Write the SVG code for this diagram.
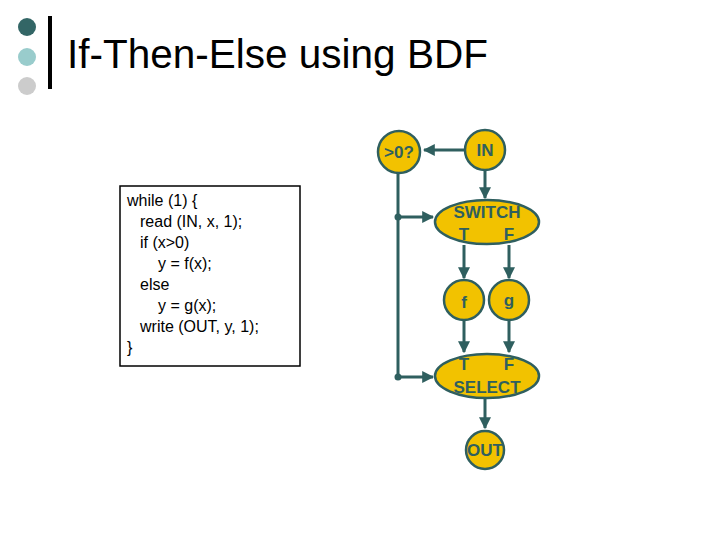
<svg xmlns="http://www.w3.org/2000/svg" width="720" height="540" viewBox="0 0 720 540">
<defs>
<style>
.n{fill:#F2C200;stroke:#2F5F5F;stroke-width:2.5}
.t{font-family:"Liberation Sans",Arial,sans-serif;font-size:17px;fill:#2F5F5F;text-anchor:middle;font-weight:bold}
.c{stroke:#2F5F5F;stroke-width:3;fill:none}
.code{font-family:"Liberation Sans",Arial,sans-serif;font-size:16px;fill:#000}
</style>
<marker id="a" viewBox="0 0 10 10" refX="9" refY="5" markerWidth="4" markerHeight="4" orient="auto"><path d="M0,0L10,5L0,10z" fill="#2F5F5F"/></marker>
</defs>
<rect width="720" height="540" fill="#fff"/>
<g id="header">
<circle cx="27" cy="27" r="9" fill="#336666"/>
<circle cx="27" cy="57" r="9" fill="#99CCCC"/>
<circle cx="27" cy="86" r="9" fill="#CCCCCC"/>
<rect x="48" y="16" width="4" height="73" fill="#000"/>
<text x="67" y="68" font-family="Liberation Sans,Arial,sans-serif" font-size="40.5" fill="#000">If-Then-Else using BDF</text>
</g>
<g id="code">
<rect x="120" y="186" width="180" height="180" fill="#fff" stroke="#000" stroke-width="1.5"/>
<text class="code" x="127" y="206">while (1) {</text>
<text class="code" x="140" y="227">read (IN, x, 1);</text>
<text class="code" x="140" y="248">if (x&gt;0)</text>
<text class="code" x="158" y="269">y = f(x);</text>
<text class="code" x="140" y="290">else</text>
<text class="code" x="158" y="311">y = g(x);</text>
<text class="code" x="140" y="332">write (OUT, y, 1);</text>
<text class="code" x="127" y="353">}</text>
</g>
<g id="connectors">
<path class="c" d="M464,150H424" marker-end="url(#a)"/>
<path class="c" d="M485,171V198" marker-end="url(#a)"/>
<path class="c" d="M398,173V377"/>
<path class="c" d="M398,217H433" marker-end="url(#a)"/>
<path class="c" d="M398,377H433" marker-end="url(#a)"/>
<path class="c" d="M464,245V278" marker-end="url(#a)"/>
<path class="c" d="M509,245V278" marker-end="url(#a)"/>
<path class="c" d="M464,320V352" marker-end="url(#a)"/>
<path class="c" d="M509,320V352" marker-end="url(#a)"/>
<path class="c" d="M485,398V428" marker-end="url(#a)"/>
<circle cx="398" cy="217" r="3.5" fill="#2F5F5F"/>
<circle cx="398" cy="377" r="3.5" fill="#2F5F5F"/>
</g>
<g id="gt0"><circle class="n" cx="399" cy="152" r="21"/><text class="t" x="399" y="158">&gt;0?</text></g>
<g id="in"><circle class="n" cx="485" cy="150" r="20"/><text class="t" x="485" y="156">IN</text></g>
<g id="switch"><ellipse class="n" cx="487" cy="222" rx="52" ry="22"/><text class="t" x="487" y="218">SWITCH</text><text class="t" x="464" y="240">T</text><text class="t" x="509" y="240">F</text></g>
<g id="f"><circle class="n" cx="464" cy="300" r="20"/><text class="t" x="464" y="308" font-size="24" font-weight="normal">f</text></g>
<g id="g"><circle class="n" cx="509" cy="300" r="20"/><text class="t" x="509" y="306" font-size="24" font-weight="normal">g</text></g>
<g id="select"><ellipse class="n" cx="487" cy="376" rx="52" ry="22"/><text class="t" x="464" y="370">T</text><text class="t" x="509" y="370">F</text><text class="t" x="487" y="393">SELECT</text></g>
<g id="out"><circle class="n" cx="485" cy="450" r="19"/><text class="t" x="485" y="456">OUT</text></g>
</svg>
